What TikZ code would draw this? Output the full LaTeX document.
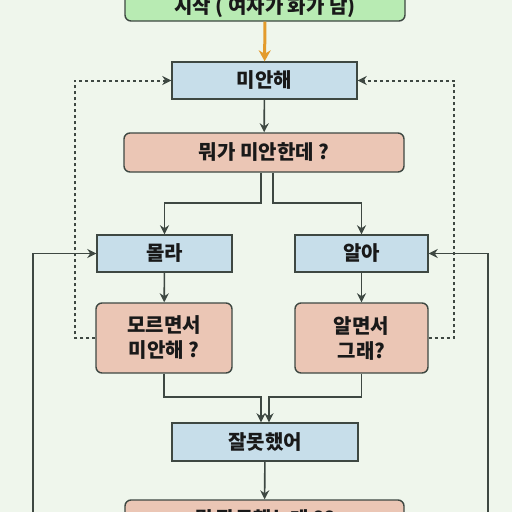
\documentclass[tikz,border=0pt]{standalone}
\usepackage{fontspec}
\setmainfont{Noto Sans CJK KR}
\usepackage{xcolor}
\definecolor{bgpaper}{HTML}{EFF6EC}
\definecolor{linegray}{HTML}{3E4842}
\definecolor{startgreen}{HTML}{B8EBB3}
\definecolor{stepblue}{HTML}{C7DEEA}
\definecolor{askpink}{HTML}{EBC6B5}
\definecolor{arroworange}{HTML}{E39B2C}
\usetikzlibrary{arrows.meta}

\begin{document}
\begin{tikzpicture}[x=1pt, y=-1pt,
  box/.style={draw=linegray, line width=1.4pt, text=black!90, inner sep=0pt,
    font=\fontsize{20}{25}\selectfont\bfseries, align=center},
  stepbox/.style={box, fill=stepblue},
  askbox/.style={box, fill=askpink, rounded corners=6pt},
  arr/.style={draw=linegray, line width=1.6pt, -{Stealth[length=9pt, width=9pt]}},
  dotarr/.style={arr, line width=2pt, dash pattern=on 3pt off 3pt}]
  % Page
  \useasboundingbox (0,0) rectangle (512,512);
  \fill[bgpaper] (0,0) rectangle (512,512);
  \clip (0,0) rectangle (512,512);
  % Boxes
  \node[box, fill=startgreen, rounded corners=6pt, minimum width=280pt, minimum height=28pt]
        (start) at (265,7) {시작 ( 여자가 화가 남)};
  \node[stepbox, minimum width=185pt, minimum height=37pt] (sorry) at (264.5,80.5) {미안해};
  \node[askbox, minimum width=280pt, minimum height=39pt] (what) at (264,152.5) {뭐가 미안한데 ?};
  \node[stepbox, minimum width=135pt, minimum height=37pt] (dunno) at (164.5,253.5) {몰라};
  \node[stepbox, minimum width=133pt, minimum height=37pt] (know) at (361.5,253.5) {알아};
  \node[askbox, minimum width=136pt, minimum height=70pt] (dunnoq) at (164,338) {모르면서\\미안해 ?};
  \node[askbox, minimum width=133pt, minimum height=70pt] (knowq) at (361.5,338) {알면서\\그래?};
  \node[stepbox, minimum width=186pt, minimum height=38pt] (wrong) at (265,442) {잘못했어};
  \node[askbox, minimum width=279pt, minimum height=38pt] (whatwrong) at (264.5,519) {뭘 잘못했는데 ??};
  % Turning points
  \coordinate (splitL) at (261,203);
  \coordinate (splitR) at (273,203);
  \coordinate (joinY) at (0,397);
  \coordinate (dotL) at (75,0);
  \coordinate (dotR) at (454,0);
  \coordinate (backL) at (33,0);
  \coordinate (backR) at (488,0);
  % Main flow
  \draw[line width=3pt, arroworange, -{Stealth[length=11pt, width=12pt]}] (start) -- (sorry);
  \draw[arr] (sorry) -- (what);
  \draw[arr] (what.south -| splitL) -- (splitL) -| (dunno.north);
  \draw[arr] (what.south -| splitR) -- (splitR) -| (know.north);
  \draw[arr] (dunno) -- (dunnoq);
  \draw[arr] (know) -- (knowq);
  \draw[arr] (dunnoq.south) -- (dunnoq.south |- joinY) -| ([xshift=-4pt]wrong.north);
  \draw[arr] (knowq.south) -- (knowq.south |- joinY) -| ([xshift=4pt]wrong.north);
  \draw[arr] (wrong) -- (whatwrong);
  % Back to the start
  \draw[dotarr] (dunnoq.west) -- (dunnoq.west -| dotL) |- (sorry.west);
  \draw[dotarr] (knowq.east) -- (knowq.east -| dotR) |- (sorry.east);
  \draw[arr] (whatwrong.west) -- (whatwrong.west -| backL) |- (dunno.west);
  \draw[arr] (whatwrong.east) -- (whatwrong.east -| backR) |- (know.east);
\end{tikzpicture}
\end{document}
